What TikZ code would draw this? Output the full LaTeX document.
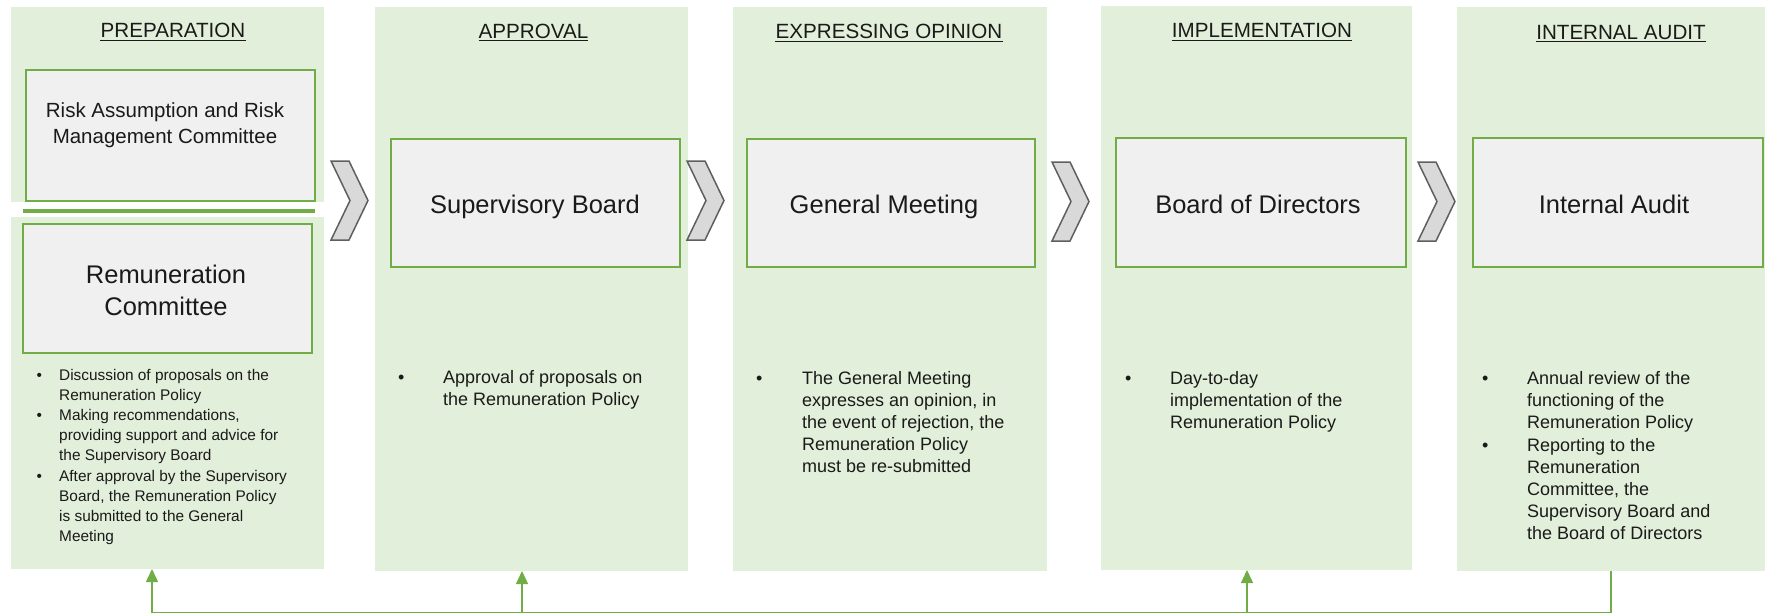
\documentclass[tikz,border=0pt]{standalone}
\usepackage{fontspec}
\setmainfont{Liberation Sans}
\usetikzlibrary{arrows.meta}
\definecolor{bggreen}{HTML}{E2EFDA}
\definecolor{boxgreen}{HTML}{70AD47}
\definecolor{boxfill}{HTML}{F0F0F0}
\definecolor{chevfill}{HTML}{D9D9D9}
\definecolor{chevline}{HTML}{5F5F5F}
\definecolor{txt}{HTML}{1A1A1A}
\begin{document}
\begin{tikzpicture}[x=1pt,y=-1pt,
  colbg/.style={fill=bggreen,draw=none,anchor=north west,inner sep=0pt,outer sep=0pt},
  boxnode/.style={fill=boxfill,draw=boxgreen,line width=2pt,anchor=north west,inner sep=0pt,outer sep=0pt},
  head/.style={anchor=base,inner sep=0pt,text=txt,font=\fontsize{20.6}{24}\selectfont},
  uline/.style={draw=txt,line width=1.1pt},
  bigtxt/.style={align=center,inner sep=0pt,text=txt,font=\fontsize{25.5}{32}\selectfont},
  midtxt/.style={align=center,inner sep=0pt,text=txt,font=\fontsize{20.5}{26}\selectfont},
  smalllist/.style={anchor=base west,inner sep=0pt,text=txt,font=\fontsize{15.4}{20.2}\selectfont},
  biglist/.style={anchor=base west,inner sep=0pt,text=txt,font=\fontsize{18}{22.2}\selectfont},
  chev/.style={fill=chevfill,draw=chevline,line width=1.5pt,line join=miter},
  conn/.style={draw=boxgreen,line width=1.5pt},
  tip/.style={-{Triangle[length=13pt,width=12pt]}}
]
\useasboundingbox (0,0) rectangle (1765,614);

% column backgrounds
\node[colbg,minimum width=313pt,minimum height=195pt] (c1a) at (11,7) {};
\node[colbg,minimum width=313pt,minimum height=352pt] (c1b) at (11,217) {};
\node[colbg,minimum width=313pt,minimum height=564pt] (c2) at (375,7) {};
\node[colbg,minimum width=314pt,minimum height=564pt] (c3) at (733,7) {};
\node[colbg,minimum width=311pt,minimum height=564pt] (c4) at (1101,6) {};
\node[colbg,minimum width=308pt,minimum height=564pt] (c5) at (1457,7) {};

% separator line in the first column
\coordinate (sepL) at (23,211);
\coordinate (sepR) at (315,211);
\draw[draw=boxgreen,line width=3.2pt] (sepL) -- (sepR);

% headings
\node[head] (h1) at (173,37.5) {PREPARATION};
\node[head] (h2) at (533.5,38.3) {APPROVAL};
\node[head] (h3) at (889,38.8) {EXPRESSING OPINION};
\node[head] (h4) at (1262,37.5) {IMPLEMENTATION};
\node[head] (h5) at (1621,39) {INTERNAL AUDIT};
\foreach \h in {h1,h2,h3,h4,h5}{
  \draw[uline] ([yshift=-2.6pt]\h.base west) -- ([yshift=-2.6pt]\h.base east);
}

% boxes
\node[boxnode,minimum width=289pt,minimum height=131pt] (risk) at (25.5,69.5) {};
\node[midtxt] (risktxt) at (165,125) {Risk Assumption and Risk\\Management Committee};
\node[boxnode,minimum width=289pt,minimum height=129pt] (rem) at (22.5,223.5) {};
\node[bigtxt] (remtxt) at (166,290) {Remuneration\\Committee};
\node[boxnode,minimum width=289pt,minimum height=128pt] (sb) at (390.5,138.5) {};
\node[bigtxt,anchor=base] (sbtxt) at (535,213) {Supervisory Board};
\node[boxnode,minimum width=288pt,minimum height=128pt] (gm) at (746.5,138.5) {};
\node[bigtxt,anchor=base] (gmtxt) at (884,213) {General Meeting};
\node[boxnode,minimum width=290pt,minimum height=129pt] (bd) at (1115.5,137.5) {};
\node[bigtxt,anchor=base] (bdtxt) at (1258,213) {Board of Directors};
\node[boxnode,minimum width=290pt,minimum height=129pt] (ia) at (1472.5,137.5) {};
\node[bigtxt,anchor=base] (iatxt) at (1614,213) {Internal Audit};

% chevrons
\foreach \cx/\cy in {331/161, 687/161, 1052/162, 1418/162}{
  \draw[chev] (\cx,\cy) -- ++(18,0) -- ++(19,39.5) -- ++(-19,39.5) -- ++(-18,0) -- ++(19,-39.5) -- cycle;
}

% bullet lists
\node[smalllist] (l1) at (36.3,380) {\begin{tabular}[t]{@{}p{22.7pt}@{}l@{}}
\textbullet & Discussion of proposals on the\\
 & Remuneration Policy\\
\textbullet & Making recommendations,\\
 & providing support and advice for\\
 & the Supervisory Board\\
\textbullet & After approval by the Supervisory\\
 & Board, the Remuneration Policy\\
 & is submitted to the General\\
 & Meeting
\end{tabular}};
\node[biglist] (l2) at (397.8,383) {\begin{tabular}[t]{@{}p{45.2pt}@{}l@{}}
\textbullet & Approval of proposals on\\
 & the Remuneration Policy
\end{tabular}};
\node[biglist] (l3) at (755.8,384) {\begin{tabular}[t]{@{}p{46.2pt}@{}l@{}}
\textbullet & The General Meeting\\
 & expresses an opinion, in\\
 & the event of rejection, the\\
 & Remuneration Policy\\
 & must be re-submitted
\end{tabular}};
\node[biglist] (l4) at (1124.8,384) {\begin{tabular}[t]{@{}p{45.2pt}@{}l@{}}
\textbullet & Day-to-day\\
 & implementation of the\\
 & Remuneration Policy
\end{tabular}};
\node[biglist] (l5) at (1481.8,384.5) {\begin{tabular}[t]{@{}p{45.2pt}@{}l@{}}
\textbullet & Annual review of the\\
 & functioning of the\\
 & Remuneration Policy\\
\textbullet & Reporting to the\\
 & Remuneration\\
 & Committee, the\\
 & Supervisory Board and\\
 & the Board of Directors
\end{tabular}};

% feedback connector
\coordinate (busy) at (0,612.5);
\coordinate (t1) at ([xshift=-15.5pt]c1b.south);
\coordinate (t2) at ([xshift=-9.5pt]c2.south);
\coordinate (t4) at ([xshift=-9.5pt]c4.south);
\draw[conn] (c5.south) -- (c5.south |- busy) -- (t1 |- busy);
\draw[conn,tip] (t1 |- busy) -- (t1);
\draw[conn,tip] (t2 |- busy) -- (t2);
\draw[conn,tip] (t4 |- busy) -- (t4);
\end{tikzpicture}
\end{document}
